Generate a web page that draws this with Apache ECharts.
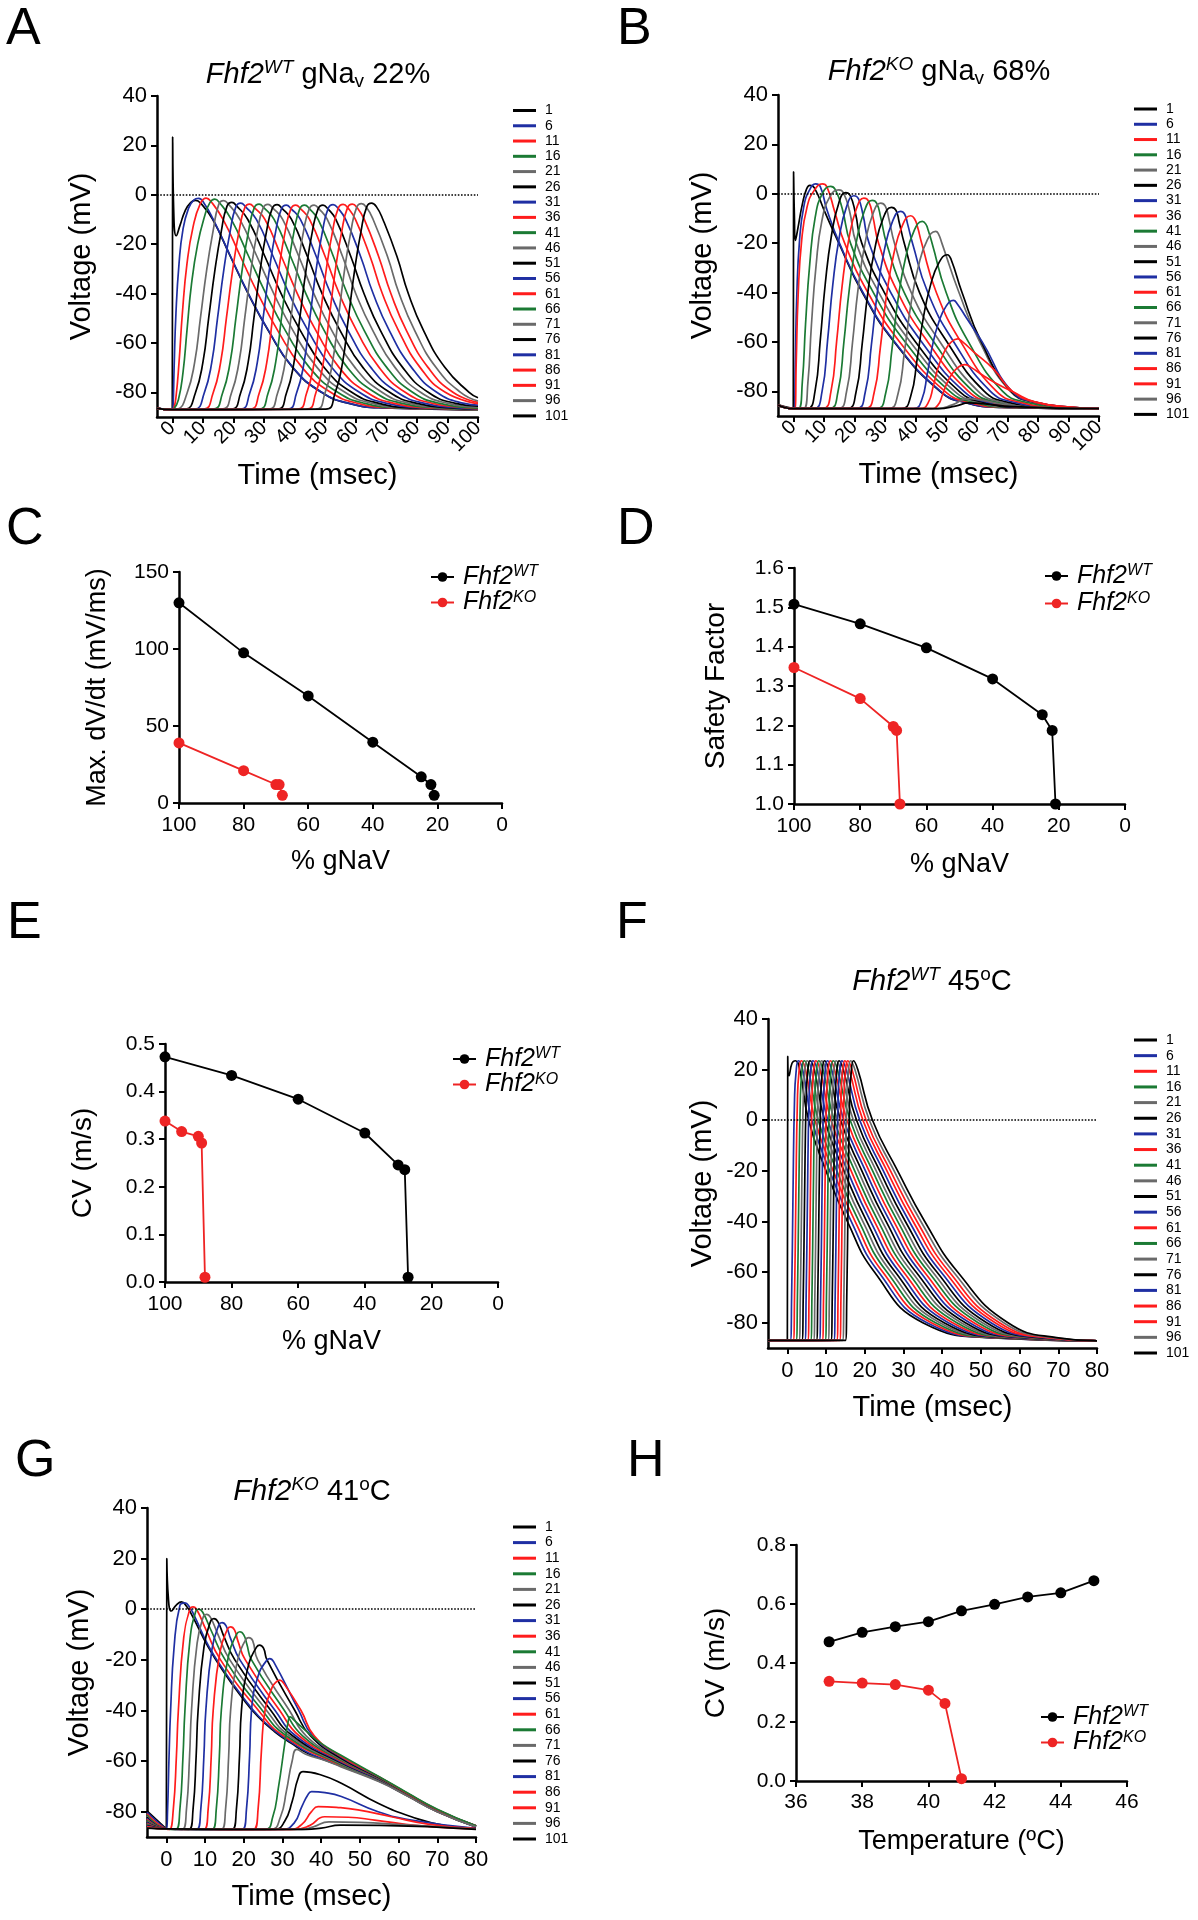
<!DOCTYPE html>
<html><head><meta charset="utf-8">
<script src="https://cdn.jsdelivr.net/npm/echarts@6/dist/echarts.min.js"></script>
<style>html,body{margin:0;padding:0;background:#fff}#c{width:1198px;height:1920px}</style>
</head><body><div id="c"></div>
<script>
// ---------------- DATA ----------------
const traceLabels = ['1','6','11','16','21','26','31','36','41','46','51','56','61','66','71','76','81','86','91','96','101'];
const traceColorKeys = ['k','b','r','g','y','k','b','r','g','y','k','b','r','g','y','k','b','r','r','y','k'];
const voltTicks = [-80,-60,-40,-20,0,20,40];
const timeTicksAB = [0,10,20,30,40,50,60,70,80,90,100];
const timeTicksFG = [0,10,20,30,40,50,60,70,80];

// Panel A: Fhf2 WT, gNav 22%  (time ms, voltage mV)
const tracesA = [
 [[-5,-86.5],[0,-87],[0.12,23.4],[0.5,-8],[1.3,-16.6],[2.5,-12.5],[4.2,-6.5],[6,-3.2],[7.6,-2.3],[9.4,-3.6],[13.2,-10],[19,-25],[24.8,-40],[31.4,-55],[39.4,-70],[48.8,-80],[57.8,-84.5],[68.8,-86.3],[100,-87]],
 [[-5,-86.5],[0,-87],[0.25,-86],[0.6,-70],[1.2,-48],[2.2,-28],[3.5,-14],[5.3,-5.5],[7,-2.2],[8.6,-1.5],[10.6,-3.8],[13.4,-10],[19.1,-25],[24.9,-40],[31.5,-55],[39.5,-70],[48.9,-80],[57.9,-84.5],[68.9,-86.3],[100,-87]],
 [[-5,-86.5],[0,-87],[0.5,-86.5],[1.2,-82],[2.2,-68],[3.3,-48],[4.8,-28],[6.8,-13],[9.2,-3.5],[11.1,-1.35],[12.7,-2.8],[16.6,-10],[22.3,-25],[28.0,-40],[34.5,-55],[42.5,-70],[51.8,-80],[60.8,-84.5],[71.8,-86.3],[100,-87]],
 [[-5,-86.5],[0,-87],[0.5,-86.8],[2,-83],[3.5,-72],[4.8,-55],[6.3,-36],[8.3,-20],[10.5,-9],[12.3,-3.2],[13.9,-1.8],[15.5,-3.3],[19.3,-10],[25.0,-25],[30.6,-40],[37.0,-55],[44.9,-70],[54.1,-80],[63.1,-84.5],[74.1,-86.3],[100,-87]],
 [[-5,-86.5],[0,-87],[1.8,-86.8],[4.8,-80.5],[7.3,-68],[9.2,-50],[11.3,-30],[13.3,-15],[15.2,-3.9],[16.8,-2.4],[18.4,-3.9],[22.1,-10],[27.7,-25],[33.2,-40],[39.5,-55],[47.4,-70],[56.5,-80],[65.5,-84.5],[76.5,-86.3],[100,-87]],
 [[-5,-86.5],[0,-87],[4.5,-86.8],[7.5,-80.5],[10.0,-68],[11.9,-50],[14.0,-30],[16.0,-15],[17.9,-4.6],[19.5,-3.1],[21.1,-4.6],[24.7,-10],[30.3,-25],[35.6,-40],[41.9,-55],[49.7,-70],[58.7,-80],[67.7,-84.5],[78.7,-86.3],[100,-87]],
 [[-5,-86.5],[0,-87],[7.4,-86.8],[10.4,-80.5],[12.9,-68],[14.8,-50],[16.9,-30],[18.9,-15],[20.8,-4.9],[22.4,-3.4],[24.0,-4.9],[27.5,-10],[33.0,-25],[38.2,-40],[44.4,-55],[52.2,-70],[61.2,-80],[70.2,-84.5],[81.2,-86.3],[100,-87]],
 [[-5,-86.5],[0,-87],[10.3,-86.8],[13.3,-80.5],[15.8,-68],[17.7,-50],[19.8,-30],[21.8,-15],[23.7,-5.3],[25.3,-3.8],[26.9,-5.3],[30.3,-10],[35.7,-25],[40.9,-40],[47.0,-55],[54.6,-70],[63.6,-80],[72.6,-84.5],[83.6,-86.3],[100,-87]],
 [[-5,-86.5],[0,-87],[13.4,-86.8],[16.4,-80.5],[18.9,-68],[20.8,-50],[22.9,-30],[24.9,-15],[26.8,-5.3],[28.4,-3.8],[30.0,-5.3],[33.3,-10],[38.7,-25],[43.7,-40],[49.7,-55],[57.3,-70],[66.2,-80],[75.2,-84.5],[86.2,-86.3],[100,-87]],
 [[-5,-86.5],[0,-87],[16.3,-86.8],[19.3,-80.5],[21.8,-68],[23.7,-50],[25.8,-30],[27.8,-15],[29.7,-5.4],[31.3,-3.9],[32.9,-5.4],[36.1,-10],[41.4,-25],[46.3,-40],[52.2,-55],[59.8,-70],[68.6,-80],[77.6,-84.5],[88.6,-86.3],[100,-87]],
 [[-5,-86.5],[0,-87],[19.3,-86.8],[22.3,-80.5],[24.8,-68],[26.7,-50],[28.8,-30],[30.8,-15],[32.7,-5.5],[34.3,-4.0],[35.9,-5.5],[39.0,-10],[44.2,-25],[49.0,-40],[54.9,-55],[62.4,-70],[71.1,-80],[80.1,-84.5],[91.1,-86.3],[100,-86.8]],
 [[-5,-86.5],[0,-87],[22.3,-86.8],[25.3,-80.5],[27.8,-68],[29.7,-50],[31.8,-30],[33.8,-15],[35.7,-5.7],[37.3,-4.2],[38.9,-5.7],[41.9,-10],[47.1,-25],[51.8,-40],[57.5,-55],[65.0,-70],[73.6,-80],[82.6,-84.5],[93.6,-86.3],[100,-86.7]],
 [[-5,-86.5],[0,-87],[25.4,-86.8],[28.4,-80.5],[30.9,-68],[32.8,-50],[34.9,-30],[36.9,-15],[38.8,-5.7],[40.4,-4.2],[42.0,-5.7],[44.9,-10],[50.0,-25],[54.6,-40],[60.3,-55],[67.7,-70],[76.2,-80],[85.2,-84.5],[96.2,-86.3],[100,-86.6]],
 [[-5,-86.5],[0,-87],[28.3,-86.8],[31.3,-80.5],[33.8,-68],[35.7,-50],[37.8,-30],[39.8,-15],[41.7,-5.7],[43.3,-4.2],[44.9,-5.7],[47.7,-10],[52.7,-25],[57.2,-40],[62.8,-55],[70.2,-70],[78.6,-80],[87.6,-84.5],[100,-86.4]],
 [[-5,-86.5],[0,-87],[31.4,-86.8],[34.4,-80.5],[36.9,-68],[38.8,-50],[40.9,-30],[42.9,-15],[44.8,-5.7],[46.4,-4.2],[48.0,-5.7],[50.7,-10],[55.7,-25],[60.0,-40],[65.6,-55],[72.9,-70],[81.2,-80],[90.2,-84.5],[100,-86.0]],
 [[-5,-86.5],[0,-87],[34.3,-86.8],[37.3,-80.5],[39.8,-68],[41.7,-50],[43.8,-30],[45.8,-15],[47.7,-5.7],[49.3,-4.2],[50.9,-5.7],[53.5,-10],[58.4,-25],[62.7,-40],[68.1,-55],[75.4,-70],[83.7,-80],[92.7,-84.5],[100,-85.6]],
 [[-5,-86.5],[0,-87],[37.6,-86.8],[40.6,-80.5],[43.1,-68],[45.0,-50],[47.1,-30],[49.1,-15],[51.0,-5.5],[52.6,-4.0],[54.2,-5.5],[56.7,-10],[61.6,-25],[65.7,-40],[71.0,-55],[78.3,-70],[86.5,-80],[95.5,-84.5],[100,-85.2]],
 [[-5,-86.5],[0,-87],[40.9,-86.8],[43.9,-80.5],[46.4,-68],[48.3,-50],[50.4,-30],[52.4,-15],[54.3,-5.4],[55.9,-3.9],[57.5,-5.4],[59.9,-10],[64.7,-25],[68.7,-40],[74.0,-55],[81.1,-70],[89.3,-80],[100,-84.6]],
 [[-5,-86.5],[0,-87],[43.9,-86.8],[46.9,-80.5],[49.4,-68],[51.3,-50],[53.4,-30],[55.4,-15],[57.3,-5.3],[58.9,-3.8],[60.5,-5.3],[62.8,-10],[67.5,-25],[71.5,-40],[76.6,-55],[83.7,-70],[91.8,-80],[100,-84.1]],
 [[-5,-86.5],[0,-87],[46.9,-86.8],[49.9,-80.5],[52.4,-68],[54.3,-50],[56.4,-30],[58.4,-15],[60.3,-5.1],[61.9,-3.6],[63.5,-5.1],[65.7,-10],[70.4,-25],[74.2,-40],[79.3,-55],[86.3,-70],[94.3,-80],[100,-83.5]],
 [[-5,-86.5],[0,-87],[50.2,-86.8],[53.2,-80.5],[55.7,-68],[57.6,-50],[59.7,-30],[61.7,-15],[63.6,-4.9],[65.2,-3.4],[66.8,-4.9],[68.9,-10],[73.5,-25],[77.2,-40],[82.2,-55],[89.2,-70],[97.1,-80],[100,-82.2]]
];

// Panel B: Fhf2 KO, gNav 68%
const tracesB = [
 [[-5,-85.5],[0,-87],[0.1,8.9],[0.35,-8],[0.7,-18.9],[1.5,-14],[3,-4],[4.3,1.8],[5.4,3.4],[6.9,2.4],[10.2,-7],[14.9,-20],[22.6,-40],[33,-60],[48,-80],[56,-84.5],[68,-86.5],[100,-87]],
 [[-5,-85.5],[0,-87],[0.3,-87],[0.65,-68.8],[1.14,-41.5],[2.05,-18.75],[3.45,-5.1],[5.2,1.27],[7.3,4.0],[8.8,3.0],[11,-6.5],[15.1,-20],[22.8,-40],[33.2,-60],[48.2,-80],[56.2,-84.5],[68.2,-86.5],[100,-87]],
 [[-5,-85.5],[0,-87],[0.5,-87],[0.95,-68.8],[1.58,-41.5],[2.75,-18.75],[4.55,-5.1],[6.8,1.27],[9.5,4.0],[11,2.8],[13.6,-7.5],[16.8,-20],[24.4,-40],[34.8,-60],[49.6,-80],[57.6,-84.5],[69.6,-86.5],[100,-87]],
 [[-5,-85.5],[0,-87],[1.7,-87],[2.96,-76.2],[4.01,-52.8],[5.38,-28.5],[7.16,-9.6],[9.58,0.3],[12.2,3.0],[13.7,1.8],[16.0,-6],[18.7,-20],[26.2,-40],[36.6,-60],[51.2,-80],[59.2,-84.5],[71.2,-86.5],[100,-87]],
 [[-5,-85.5],[0,-87],[3.4,-87],[4.78,-76.4],[5.93,-53.3],[7.43,-29.4],[9.38,-10.8],[12.03,-1.06],[14.9,1.6],[16.4,0.4],[18.4,-7],[20.6,-20],[28.0,-40],[38.3,-60],[52.8,-80],[60.8,-84.5],[72.8,-86.5],[100,-87]],
 [[-5,-85.5],[0,-87],[4.6,-87],[7.1,-80],[8.85,-59],[10.48,-36.25],[12.48,-17],[14.85,-3.9],[17.1,0.5],[18.6,-0.7],[20.3,-7.7],[22.4,-20],[29.8,-40],[40.0,-60],[54.3,-80],[62.3,-84.5],[74.3,-86.5],[100,-87]],
 [[-5,-85.5],[0,-87],[6.8,-87],[9.4,-80.1],[11.22,-59.4],[12.91,-37.0],[14.99,-18.0],[17.46,-5.1],[19.8,-0.8],[21.3,-2.0],[22.8,-8.5],[24.8,-20],[31.9,-40],[42.0,-60],[55.8,-80],[63.8,-84.5],[75.8,-86.5],[100,-87]],
 [[-5,-85.5],[0,-87],[9.6,-87],[12.3,-80.2],[14.19,-59.7],[15.95,-37.6],[18.11,-18.8],[20.67,-6.0],[23.1,-1.75],[24.6,-2.95],[26.0,-9.05],[27.9,-20],[34.2,-40],[44.0,-60],[57.3,-80],[65.3,-84.5],[77.3,-86.5],[100,-87]],
 [[-5,-85.5],[0,-87],[11.8,-87],[14.6,-80.3],[16.56,-60.0],[18.38,-38.1],[20.62,-19.6],[23.28,-6.9],[25.8,-2.7],[27.3,-3.9],[28.6,-9.6],[30.5,-20],[36.3,-40],[46.0,-60],[58.8,-80],[66.8,-84.5],[78.8,-86.5],[100,-87]],
 [[-5,-85.5],[0,-87],[14.6,-87],[17.4,-80.3],[19.36,-60.4],[21.18,-38.7],[23.42,-20.4],[26.08,-8.0],[28.6,-3.8],[30.1,-5.0],[31.3,-10.3],[33.1,-20],[38.6,-40],[48.0,-60],[60.5,-80],[68.5,-84.5],[80.5,-86.5],[100,-87]],
 [[-5,-85.5],[0,-87],[17.6,-87],[20.5,-80.5],[22.53,-60.9],[24.42,-39.7],[26.74,-21.8],[29.49,-9.6],[32.1,-5.5],[33.6,-6.7],[34.6,-11.3],[36.3,-20],[41.3,-40],[50.3,-60],[62.5,-80],[70.5,-84.5],[82.5,-86.5],[100,-87]],
 [[-5,-85.5],[0,-87],[20.6,-87],[23.5,-80.6],[25.53,-61.4],[27.42,-40.7],[29.74,-23.1],[32.49,-11.1],[35.1,-7.1],[36.4,-8.2],[37.4,-12.3],[39.0,-20],[44.0,-40],[52.5,-60],[64.5,-80],[72.5,-84.5],[84.5,-86.5],[100,-87]],
 [[-5,-85.5],[0,-87],[23.4,-87],[26.4,-80.8],[28.5,-62.0],[30.45,-41.7],[32.85,-24.5],[35.7,-12.8],[38.4,-8.9],[39.6,-10.0],[40.6,-13.3],[42.0,-20],[46.8,-40],[54.8,-60],[66.5,-80],[74.5,-84.5],[86.5,-86.5],[100,-87]],
 [[-5,-85.5],[0,-87],[27.2,-87],[30.2,-80.9],[32.3,-62.7],[34.25,-43.0],[36.65,-26.4],[39.5,-15.0],[42.2,-11.2],[43.3,-12.2],[44.1,-14.7],[45.4,-20],[50.0,-40],[57.3,-60],[68.5,-80],[76.5,-84.5],[88.5,-86.5],[100,-87]],
 [[-5,-85.5],[0,-87],[31.1,-87],[34.2,-81.3],[36.37,-64.0],[38.39,-45.4],[40.87,-29.6],[43.81,-18.8],[46.6,-15.2],[47.4,-16.0],[48.6,-20],[54.2,-40],[61.0,-60],[71.0,-80],[79,-84.5],[91,-86.5],[100,-87]],
 [[-5,-85.5],[0,-87],[35.4,-87],[38.4,-82.0],[40.5,-67.1],[42.45,-50.9],[44.85,-37.2],[47.7,-27.8],[50.4,-24.7],[51.6,-26.5],[55.2,-40],[61.5,-60],[71.3,-80],[79.3,-84.5],[91.3,-86.5],[100,-87]],
 [[-5,-85.5],[0,-87],[39.4,-87],[42.0,-83.5],[43.82,-73.0],[45.51,-61.6],[47.59,-52.0],[50.06,-45.4],[52.4,-43.2],[53.6,-44.5],[56.5,-50],[61.8,-60],[71.5,-80],[79.5,-84.5],[91.5,-86.5],[100,-87]],
 [[-5,-85.5],[0,-87],[41.7,-87],[44.1,-84.7],[45.78,-78.0],[47.34,-70.6],[49.26,-64.4],[51.54,-60.2],[53.7,-58.8],[55.2,-59.8],[59,-64],[65.5,-71],[71.7,-80],[79.7,-84.5],[91.7,-86.5],[100,-87]],
 [[-5,-85.5],[0,-87],[45.1,-87],[47.3,-85.6],[48.84,-81.3],[50.27,-76.7],[52.03,-72.8],[54.12,-70.1],[56.1,-69.2],[58,-70.2],[62,-73.5],[66,-76.5],[71.5,-80],[79.5,-84.5],[91.5,-86.5],[100,-87]],
 [[-5,-85.5],[0,-87],[47,-87],[52,-85.5],[57,-83],[61,-83.5],[70,-85.5],[80,-86.5],[100,-87]],
 [[-5,-85.5],[0,-87],[47.5,-87],[53,-86],[57.5,-84.7],[62,-85],[72,-86.2],[100,-87]]
];

// Panel F: Fhf2 WT, 45 oC
const tracesF = [
 [[-5,-87],[0,-87],[0.1,25.2],[0.45,17.6],[1.2,22.5],[2.1,23.5],[3.2,20],[5.5,0],[10.0,-20],[15.5,-40],[22.5,-60],[35.0,-80],[53.0,-86],[80,-87.2]],
 [[-5,-87],[0.75,-87],[1.1,-70],[1.45,-30],[1.85,8],[2.25,19],[2.85,23.5],[3.95,20],[6.33,0],[10.93,-20],[16.5,-40],[23.58,-60],[36.1,-80],[53.85,-86],[80,-87.2]],
 [[-5,-87],[1.5,-87],[1.85,-70],[2.2,-30],[2.6,8],[3.0,19],[3.6,23.5],[4.7,20],[7.15,0],[11.85,-20],[17.5,-40],[24.65,-60],[37.2,-80],[54.7,-86],[80,-87.2]],
 [[-5,-87],[2.25,-87],[2.6,-70],[2.95,-30],[3.35,8],[3.75,19],[4.35,23.5],[5.45,20],[7.98,0],[12.78,-20],[18.5,-40],[25.73,-60],[38.3,-80],[55.55,-86],[80,-87.2]],
 [[-5,-87],[3.0,-87],[3.35,-70],[3.7,-30],[4.1,8],[4.5,19],[5.1,23.5],[6.2,20],[8.8,0],[13.7,-20],[19.5,-40],[26.8,-60],[39.4,-80],[56.4,-86],[80,-87.2]],
 [[-5,-87],[3.75,-87],[4.1,-70],[4.45,-30],[4.85,8],[5.25,19],[5.85,23.5],[6.95,20],[9.63,0],[14.63,-20],[20.5,-40],[27.88,-60],[40.5,-80],[57.25,-86],[80,-87.2]],
 [[-5,-87],[4.5,-87],[4.85,-70],[5.2,-30],[5.6,8],[6.0,19],[6.6,23.5],[7.7,20],[10.45,0],[15.55,-20],[21.5,-40],[28.95,-60],[41.6,-80],[58.1,-86],[80,-87.2]],
 [[-5,-87],[5.25,-87],[5.6,-70],[5.95,-30],[6.35,8],[6.75,19],[7.35,23.5],[8.45,20],[11.28,0],[16.48,-20],[22.5,-40],[30.03,-60],[42.7,-80],[58.95,-86],[80,-87.2]],
 [[-5,-87],[6.0,-87],[6.35,-70],[6.7,-30],[7.1,8],[7.5,19],[8.1,23.5],[9.2,20],[12.1,0],[17.4,-20],[23.5,-40],[31.1,-60],[43.8,-80],[59.8,-86],[80,-87.2]],
 [[-5,-87],[6.75,-87],[7.1,-70],[7.45,-30],[7.85,8],[8.25,19],[8.85,23.5],[9.95,20],[12.93,0],[18.33,-20],[24.5,-40],[32.18,-60],[44.9,-80],[60.65,-86],[80,-87.2]],
 [[-5,-87],[7.5,-87],[7.85,-70],[8.2,-30],[8.6,8],[9.0,19],[9.6,23.5],[10.7,20],[13.75,0],[19.25,-20],[25.5,-40],[33.25,-60],[46.0,-80],[61.5,-86],[80,-87.2]],
 [[-5,-87],[8.25,-87],[8.6,-70],[8.95,-30],[9.35,8],[9.75,19],[10.35,23.5],[11.45,20],[14.58,0],[20.18,-20],[26.5,-40],[34.33,-60],[47.1,-80],[62.35,-86],[80,-87.2]],
 [[-5,-87],[9.0,-87],[9.35,-70],[9.7,-30],[10.1,8],[10.5,19],[11.1,23.5],[12.2,20],[15.4,0],[21.1,-20],[27.5,-40],[35.4,-60],[48.2,-80],[63.2,-86],[80,-87.2]],
 [[-5,-87],[9.75,-87],[10.1,-70],[10.45,-30],[10.85,8],[11.25,19],[11.85,23.5],[12.95,20],[16.23,0],[22.03,-20],[28.5,-40],[36.48,-60],[49.3,-80],[64.05,-86],[80,-87.2]],
 [[-5,-87],[10.5,-87],[10.85,-70],[11.2,-30],[11.6,8],[12.0,19],[12.6,23.5],[13.7,20],[17.05,0],[22.95,-20],[29.5,-40],[37.55,-60],[50.4,-80],[64.9,-86],[80,-87.2]],
 [[-5,-87],[11.25,-87],[11.6,-70],[11.95,-30],[12.35,8],[12.75,19],[13.35,23.5],[14.45,20],[17.88,0],[23.88,-20],[30.5,-40],[38.63,-60],[51.5,-80],[65.75,-86],[80,-87.2]],
 [[-5,-87],[12.0,-87],[12.35,-70],[12.7,-30],[13.1,8],[13.5,19],[14.1,23.5],[15.2,20],[18.7,0],[24.8,-20],[31.5,-40],[39.7,-60],[52.6,-80],[66.6,-86],[80,-87.2]],
 [[-5,-87],[12.75,-87],[13.1,-70],[13.45,-30],[13.85,8],[14.25,19],[14.85,23.5],[15.95,20],[19.53,0],[25.73,-20],[32.5,-40],[40.78,-60],[53.7,-80],[67.45,-86],[80,-87.2]],
 [[-5,-87],[13.5,-87],[13.85,-70],[14.2,-30],[14.6,8],[15.0,19],[15.6,23.5],[16.7,20],[20.35,0],[26.65,-20],[33.5,-40],[41.85,-60],[54.8,-80],[68.3,-86],[80,-87.2]],
 [[-5,-87],[14.25,-87],[14.6,-70],[14.95,-30],[15.35,8],[15.75,19],[16.35,23.5],[17.45,20],[21.18,0],[27.58,-20],[34.5,-40],[42.93,-60],[55.9,-80],[69.15,-86],[80,-87.2]],
 [[-5,-87],[15.0,-87],[15.35,-70],[15.7,-30],[16.1,8],[16.5,19],[17.1,23.5],[18.2,20],[22.0,0],[28.5,-20],[35.5,-40],[44.0,-60],[57.0,-80],[70.0,-86],[80,-87.2]]
];

// Panel G: Fhf2 KO, 41 oC
const tracesG = [
 [[-5,-79.7],[0,-86.8],[0.12,20],[0.5,5],[1.3,-0.7],[2.5,1.5],[3.9,2.9],[5.2,1.2],[6.5,-2],[10.8,-14.9],[15.1,-25.4],[19.4,-34.6],[23.7,-42.5],[28,-48.4],[32.3,-53],[36.6,-57],[40.9,-59.6],[45.2,-62],[55,-68],[62,-73.5],[70,-80],[80,-86]],
 [[-5,-80.3],[0,-86.8],[0.3,-80],[0.7,-58],[1.1,-40],[2.0,-15],[3.5,1.5],[4.8,2.5],[6.0,0.8],[7.0,-1.8],[10.9,-14.5],[15.2,-25],[19.5,-34.2],[23.8,-42.2],[28.1,-48.1],[32.4,-52.7],[36.7,-56.7],[41,-59.4],[45.2,-61.8],[55,-67.9],[62,-73.4],[70,-79.9],[80,-86]],
 [[-5,-80.8],[0,-86.8],[0.8,-87],[1.8,-79],[2.6,-58],[3.1,-40],[4.5,-11],[6.1,0.1],[6.9,0.9],[7.9,-0.3],[10.2,-8],[14.0,-20],[23.8,-40],[30.3,-50],[45,-61.7],[55,-67.8],[62,-73.4],[70,-79.9],[80,-85.9]],
 [[-5,-81.3],[0,-86.8],[2.4,-87],[3.5,-79],[4.3,-58],[4.8,-40],[6.1,-12],[7.6,-0.8],[8.4,0],[9.4,-1.2],[11.6,-8.5],[15.2,-20],[24.8,-40],[31.0,-50],[45,-61.3],[55,-67.6],[62,-73.3],[70,-79.8],[80,-85.9]],
 [[-5,-81.8],[0,-86.8],[4.1,-87],[5.2,-79],[6.0,-58],[6.5,-40],[7.95,-13.4],[9.6,-2.8],[10.4,-2],[11.4,-3.2],[13.2,-9.5],[16.4,-20],[25.9,-40],[31.8,-50],[45,-61.0],[55,-67.5],[62,-73.2],[70,-79.7],[80,-85.8]],
 [[-5,-82.2],[0,-86.8],[5.8,-87],[6.9,-79],[7.7,-58],[8.2,-40],[9.75,-14.6],[11.5,-4.5],[12.3,-3.7],[13.3,-4.9],[14.8,-10.5],[17.7,-20],[27.0,-40],[32.6,-50],[45,-60.6],[55,-67.3],[62,-73.1],[70,-79.6],[80,-85.8]],
 [[-5,-82.6],[0,-86.8],[7.8,-87],[8.9,-79],[9.7,-58],[10.2,-40],[11.8,-15.7],[13.6,-6.1],[14.4,-5.3],[15.4,-6.5],[16.6,-11.6],[19.0,-20],[28.1,-40],[33.4,-50],[45,-60.3],[55,-67.2],[62,-73.0],[70,-79.6],[80,-85.8]],
 [[-5,-83.0],[0,-86.8],[9.7,-87],[10.8,-79],[11.6,-58],[12.1,-40],[13.85,-16.9],[15.8,-7.8],[16.6,-7.0],[17.6,-8.2],[18.5,-12.6],[20.4,-20],[29.3,-40],[34.3,-50],[45,-59.9],[55,-67.0],[62,-72.9],[70,-79.5],[80,-85.7]],
 [[-5,-83.4],[0,-86.8],[11.8,-87],[12.9,-79],[13.7,-58],[14.2,-40],[16.1,-18.2],[18.2,-9.7],[19.0,-8.9],[20.0,-10.1],[20.8,-13.8],[22.0,-20],[30.5,-40],[35.2,-50],[45,-59.5],[55,-66.9],[62,-72.8],[70,-79.4],[80,-85.7]],
 [[-5,-83.8],[0,-86.8],[14.2,-87],[15.3,-79],[16.1,-58],[16.6,-40],[18.45,-19.8],[20.5,-12],[21.3,-11.2],[22.3,-12.4],[23.6,-20],[31.8,-40],[36.1,-50],[45,-59.2],[55,-66.7],[62,-72.7],[70,-79.4],[80,-85.7]],
 [[-5,-84.1],[0,-86.8],[17,-87],[18.1,-79],[18.9,-58],[19.4,-40],[21.25,-21.9],[23.3,-15],[24.1,-14.2],[25.1,-15.4],[26.0,-20],[33.2,-40],[37.2,-50],[45,-58.8],[55,-66.6],[62,-72.6],[70,-79.3],[80,-85.6]],
 [[-5,-84.4],[0,-86.8],[19.6,-87],[20.7,-79],[21.5,-58],[22,-40],[23.85,-25.7],[25.9,-20.3],[26.7,-19.5],[27.7,-20.7],[34.2,-40],[37.8,-50],[45,-58.3],[55,-66.4],[62,-72.5],[70,-79.2],[80,-85.6]],
 [[-5,-84.7],[0,-86.8],[22.5,-87],[23.7,-79],[24.6,-55],[25.5,-40],[27.3,-31],[28.5,-28.6],[29.3,-28],[30.3,-29.2],[34.8,-40],[38.2,-50],[45,-58.0],[55,-66.3],[62,-72.5],[70,-79.2],[80,-85.6]],
 [[-5,-85.0],[0,-86.8],[25.5,-87],[27.5,-82],[28.9,-71],[30.6,-53],[31.4,-45],[32,-42.5],[33,-43.8],[36,-48],[40,-53],[45,-57.6],[55,-66.2],[62,-72.3],[70,-79],[80,-85.6]],
 [[-5,-85.3],[0,-86.8],[27,-87],[29.5,-82],[31,-72],[32.5,-60],[33.7,-55.4],[36,-57.3],[41,-59.8],[45,-62.2],[55,-68.2],[62,-73.6],[70,-80],[80,-86]],
 [[-5,-85.5],[0,-86.8],[28,-87],[30.5,-84],[32.5,-76],[34,-67],[35.3,-64.2],[40,-65.5],[45.2,-68.8],[54.7,-76.7],[63.3,-82],[72,-85.5],[80,-86.5]],
 [[-5,-85.7],[0,-86.8],[30,-87],[33,-84.5],[35,-78],[36.5,-73.5],[37.5,-72.1],[41,-72.5],[45.2,-74],[54.7,-80],[63.3,-83.3],[80,-86.6]],
 [[-5,-85.9],[0,-86.8],[32,-87],[35,-85],[37.5,-80],[39.2,-78],[44,-78.3],[49.5,-79.3],[58.1,-82],[68,-85],[80,-86.7]],
 [[-5,-86.1],[0,-86.8],[33,-87],[37,-85.5],[40.9,-82],[47,-82.2],[53.8,-83.3],[65,-85.5],[80,-86.8]],
 [[-5,-86.3],[0,-86.8],[35,-87],[38,-86],[42,-84],[50,-84.2],[60,-85],[80,-86.9]],
 [[-5,-86.5],[0,-86.8],[36,-87],[40,-86.5],[45,-85.3],[55,-85.4],[80,-87]]
];

// Panel C: Max dV/dt vs % gNaV
const maxDvdtWT = [[100,130],[80,97.5],[60,69.5],[40,39.5],[25,17],[22,12],[21,5]];
const maxDvdtKO = [[100,39],[80,21],[70,12],[69,12],[68,5]];
// Panel D: safety factor vs % gNaV
const safetyWT = [[100,1.508],[80,1.458],[60,1.397],[40,1.318],[25,1.227],[22,1.187],[21,1.0]];
const safetyKO = [[100,1.347],[80,1.268],[70,1.197],[69,1.187],[68,1.0]];
// Panel E: CV vs % gNaV
const cvWT = [[100,0.473],[80,0.434],[60,0.384],[40,0.313],[30,0.246],[28,0.236],[27,0.01]];
const cvKO = [[100,0.338],[95,0.316],[90,0.306],[89,0.292],[88,0.01]];
// Panel H: CV vs temperature
const cvTempWT = [[37,0.472],[38,0.504],[39,0.523],[40,0.540],[41,0.577],[42,0.599],[43,0.624],[44,0.638],[45,0.679]];
const cvTempKO = [[37,0.338],[38,0.332],[39,0.327],[40,0.308],[40.5,0.263],[41,0.008]];

// ---------------- STYLE / LAYOUT ----------------
const FONT = '"Liberation Sans", Arial, Helvetica, sans-serif';
const palette = {k:'#000000', b:'#1f2fa3', r:'#ff1c1c', g:'#1b7a34', y:'#6a6a6a'};
const KO_RED = '#ee2424';

const chart = echarts.init(document.getElementById('c'), null, {renderer:'canvas'});

const grids = [
  {left:157, top:96, width:321, height:321},
  {left:778, top:95, width:321, height:321},
  {left:179, top:572, width:323, height:231},
  {left:794, top:568, width:331, height:236},
  {left:165, top:1044, width:333, height:238},
  {left:768, top:1019, width:329, height:329},
  {left:147, top:1508, width:329, height:329},
  {left:796, top:1545, width:331, height:236}
].map(g => Object.assign({outerBoundsMode:'none', containLabel:false}, g));

function baseAxis(gi, extra) {
  const a = {
    type:'value', gridIndex:gi, nameLocation:'middle',
    axisLine:{show:true, onZero:false, lineStyle:{color:'#000', width:2.5}},
    axisTick:{show:true, inside:false, length:6, lineStyle:{color:'#000', width:2}},
    axisLabel:{color:'#000', fontSize:21, fontFamily:FONT, margin:10, showMinLabel:true, showMaxLabel:true},
    splitLine:{show:false},
    nameTextStyle:{color:'#000', fontSize:28, fontFamily:FONT}
  };
  for (const k in extra) {
    if (typeof extra[k] === 'object' && !Array.isArray(extra[k]) && a[k]) a[k] = Object.assign({}, a[k], extra[k]);
    else a[k] = extra[k];
  }
  return a;
}

function voltAxis(gi, gap) {
  return baseAxis(gi, {min:-90, max:40, name:'Voltage (mV)', nameGap:gap,
    axisTick:{customValues:voltTicks}, axisLabel:{customValues:voltTicks, fontSize:22},
    nameTextStyle:{fontSize:29}});
}

// rotated time labels (panels A, B): same config that showed all eleven labels
const rotLabel = {customValues:timeTicksAB, rotate:45, margin:8, fontSize:20, showMinLabel:undefined, showMaxLabel:undefined};

const xAxes = [
  baseAxis(0, {min:-5, max:100, name:'Time (msec)', nameGap:44, axisTick:{customValues:timeTicksAB}, axisLabel:rotLabel, nameTextStyle:{fontSize:29}}),
  baseAxis(1, {min:-5, max:100, name:'Time (msec)', nameGap:44, axisTick:{customValues:timeTicksAB}, axisLabel:rotLabel, nameTextStyle:{fontSize:29}}),
  baseAxis(2, {min:0, max:100, interval:20, inverse:true, name:'% gNaV', nameGap:45, axisLabel:{margin:12}, nameTextStyle:{fontSize:27}}),
  baseAxis(3, {min:0, max:100, interval:20, inverse:true, name:'% gNaV', nameGap:47, axisLabel:{margin:12}, nameTextStyle:{fontSize:27}}),
  baseAxis(4, {min:0, max:100, interval:20, inverse:true, name:'% gNaV', nameGap:46, axisLabel:{margin:12}, nameTextStyle:{fontSize:27}}),
  baseAxis(5, {min:-5, max:80, name:'Time (msec)', nameGap:45, axisTick:{customValues:timeTicksFG}, axisLabel:{customValues:timeTicksFG, margin:12, fontSize:22}, nameTextStyle:{fontSize:29}}),
  baseAxis(6, {min:-5, max:80, name:'Time (msec)', nameGap:45, axisTick:{customValues:timeTicksFG}, axisLabel:{customValues:timeTicksFG, margin:12, fontSize:22}, nameTextStyle:{fontSize:29}}),
  baseAxis(7, {min:36, max:46, interval:2, name:'Temperature (ºC)', nameGap:47, axisLabel:{margin:11}, nameTextStyle:{fontSize:27}})
];
const yAxes = [
  voltAxis(0, 61),
  voltAxis(1, 61),
  baseAxis(2, {min:0, max:150, interval:50, name:'Max. dV/dt (mV/ms)', nameGap:68, nameTextStyle:{fontSize:27}}),
  baseAxis(3, {min:1.0, max:1.6, interval:0.1, name:'Safety Factor', nameGap:64, axisLabel:{formatter:v => v.toFixed(1)}}),
  baseAxis(4, {min:0, max:0.5, interval:0.1, name:'CV (m/s)', nameGap:68, axisLabel:{formatter:v => v.toFixed(1)}}),
  voltAxis(5, 51),
  voltAxis(6, 53),
  baseAxis(7, {min:0, max:0.8, interval:0.2, name:'CV (m/s)', nameGap:66, axisLabel:{formatter:v => v.toFixed(1)}})
];

const zeroLine = {
  silent:true, symbol:['none','none'], label:{show:false}, animation:false,
  lineStyle:{type:'dotted', color:'#000', width:1.6},
  data:[{yAxis:0}]
};

function traceSeries(traces, gi) {
  return traces.map((pts, k) => {
    const col = palette[traceColorKeys[k]];
    const s = {
      type:'line', name:traceLabels[k], xAxisIndex:gi, yAxisIndex:gi, data:pts,
      showSymbol:false, symbol:'none', smooth:0.5, silent:true,
      lineStyle:{color:col, width:1.7}, itemStyle:{color:col}, z:2, animation:false
    };
    if (k === 0) s.markLine = zeroLine;
    return s;
  });
}

function pairSeries(gi, wt, ko) {
  return [
    {type:'line', name:'WT', xAxisIndex:gi, yAxisIndex:gi, data:wt, symbol:'circle', symbolSize:11, showSymbol:true, clip:false,
     lineStyle:{color:'#000', width:1.8}, itemStyle:{color:'#000'}, z:3, silent:true, animation:false},
    {type:'line', name:'KO', xAxisIndex:gi, yAxisIndex:gi, data:ko, symbol:'circle', symbolSize:11, showSymbol:true, clip:false,
     lineStyle:{color:KO_RED, width:1.8}, itemStyle:{color:KO_RED}, z:3, silent:true, animation:false}
  ];
}

const series = [].concat(
  traceSeries(tracesA, 0),
  traceSeries(tracesB, 1),
  pairSeries(2, maxDvdtWT, maxDvdtKO),
  pairSeries(3, safetyWT, safetyKO),
  pairSeries(4, cvWT, cvKO),
  traceSeries(tracesF, 5),
  traceSeries(tracesG, 6),
  pairSeries(7, cvTempWT, cvTempKO)
);

function traceLegend(left, top, gap) {
  return {data:traceLabels, orient:'vertical', left, top, itemWidth:23, itemHeight:3, itemGap:gap,
    icon:'rect', selectedMode:false, padding:0,
    textStyle:{fontSize:14, lineHeight:14, fontFamily:FONT, color:'#000', padding:[0,0,0,4]}};
}
const supRich = {
  i:{fontSize:25, fontStyle:'italic', fontFamily:FONT, color:'#000', lineHeight:26},
  s:{fontSize:16, fontStyle:'italic', fontFamily:FONT, color:'#000', verticalAlign:'top', lineHeight:16}
};
function pairLegend(left, top, gap) {
  return {data:['WT','KO'], orient:'vertical', left, top, itemWidth:23, itemHeight:12, itemGap:gap,
    selectedMode:false, padding:0, formatter: n => '{i|Fhf2}{s|' + n + '}',
    textStyle:{fontFamily:FONT, color:'#000', padding:[0,0,0,4], rich:supRich}};
}

const legends = [
  traceLegend(513, 103.5, 1.27),
  traceLegend(1134, 102, 1.27),
  pairLegend(430, 564, 0),
  pairLegend(1044, 563, 2),
  pairLegend(452, 1046, 0),
  traceLegend(1134, 1033, 1.65),
  traceLegend(513, 1520, 1.6),
  pairLegend(1040, 1704, 0)
];

const titleRich = {
  i:{fontSize:29, fontStyle:'italic', fontFamily:FONT, fill:'#000', lineHeight:33},
  s:{fontSize:19, fontStyle:'italic', fontFamily:FONT, fill:'#000', verticalAlign:'top', lineHeight:18},
  n:{fontSize:29, fontFamily:FONT, fill:'#000', lineHeight:33},
  o:{fontSize:19, fontFamily:FONT, fill:'#000', verticalAlign:'top', lineHeight:18},
  b:{fontSize:19, fontFamily:FONT, fill:'#000', verticalAlign:'bottom', lineHeight:18}
};
function letter(t, x, y) {
  return {type:'text', x, y, silent:true, style:{text:t, fontSize:52, fontFamily:FONT, fill:'#000', align:'left', verticalAlign:'middle'}};
}
function heading(t, x, y) {
  return {type:'text', x, y, silent:true, style:{text:t, align:'center', verticalAlign:'middle', rich:titleRich, fontSize:29, fontFamily:FONT, fill:'#000'}};
}

const option = {
  animation:false,
  backgroundColor:'#ffffff',
  textStyle:{fontFamily:FONT},
  grid:grids,
  xAxis:xAxes,
  yAxis:yAxes,
  legend:legends,
  series,
  graphic:[
    letter('A', 6, 30), letter('B', 617, 30), letter('C', 6, 530), letter('D', 617, 530),
    letter('E', 7, 924), letter('F', 616, 924), letter('G', 15, 1462), letter('H', 627, 1462),
    heading('{i|Fhf2}{s|WT}{n| gNa}{b|v}{n| 22%}', 318, 75),
    heading('{i|Fhf2}{s|KO}{n| gNa}{b|v}{n| 68%}', 939, 72),
    heading('{i|Fhf2}{s|WT}{n| 45}{o|o}{n|C}', 932, 982),
    heading('{i|Fhf2}{s|KO}{n| 41}{o|o}{n|C}', 312, 1492)
  ]
};
chart.setOption(option);
</script>
</body></html>
